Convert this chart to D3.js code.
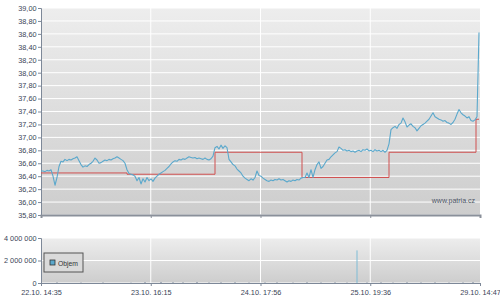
<!DOCTYPE html>
<html>
<head>
<meta charset="utf-8">
<script src="https://cdn.jsdelivr.net/npm/d3@7"></script>
<style>
  body { margin: 0; background: #fff; }
  svg { display: block; font-family: "Liberation Sans", Arial, sans-serif; }
  .tick text { fill: #3a4457; font-size: 7.3px; }
</style>
</head>
<body>
<svg width="500" height="298"></svg>
<script>
// price, sampled evenly over the trading period
const prices = [
  36.48, 36.48, 36.47, 36.49, 36.48, 36.50, 36.40, 36.26, 36.38, 36.55,
  36.63, 36.62, 36.66, 36.64, 36.66, 36.65, 36.67, 36.68, 36.70, 36.64,
  36.58, 36.54, 36.56, 36.55, 36.58, 36.60, 36.63, 36.68, 36.65, 36.60,
  36.61, 36.63, 36.65, 36.64, 36.66, 36.65, 36.67, 36.68, 36.70, 36.68,
  36.66, 36.64, 36.60, 36.50, 36.44, 36.43, 36.42, 36.40, 36.33, 36.38,
  36.28, 36.36, 36.31, 36.38, 36.33, 36.36, 36.32, 36.37, 36.40, 36.43,
  36.45, 36.47, 36.49, 36.52, 36.55, 36.59, 36.62, 36.64, 36.63, 36.66,
  36.65, 36.67, 36.66, 36.68, 36.70, 36.69, 36.68, 36.69, 36.67, 36.68,
  36.67, 36.66, 36.68, 36.66, 36.65, 36.67, 36.71, 36.84, 36.86, 36.82,
  36.88, 36.83, 36.87, 36.84, 36.66, 36.62, 36.58, 36.56, 36.51, 36.48,
  36.45, 36.40, 36.37, 36.35, 36.33, 36.36, 36.34, 36.38, 36.48, 36.41,
  36.40, 36.37, 36.35, 36.33, 36.32, 36.34, 36.33, 36.35, 36.34, 36.36,
  36.34, 36.35, 36.33, 36.31, 36.33, 36.32, 36.34, 36.33, 36.35, 36.34,
  36.37, 36.38, 36.38, 36.45, 36.38, 36.50, 36.38, 36.50, 36.58, 36.62,
  36.52, 36.55, 36.60, 36.65, 36.66, 36.70, 36.73, 36.76, 36.78, 36.85,
  36.83, 36.80, 36.81, 36.79, 36.80, 36.78, 36.79, 36.77, 36.79, 36.80,
  36.78, 36.81, 36.80, 36.82, 36.79, 36.80, 36.78, 36.81, 36.79, 36.80,
  36.78, 36.80, 36.77, 36.80, 36.90, 37.12, 37.15, 37.17, 37.14, 37.20,
  37.22, 37.30, 37.24, 37.16, 37.19, 37.21, 37.17, 37.15, 37.10, 37.14,
  37.18, 37.20, 37.22, 37.25, 37.28, 37.33, 37.38, 37.32, 37.30, 37.28,
  37.27, 37.25, 37.26, 37.23, 37.22, 37.20, 37.23, 37.28, 37.36, 37.43,
  37.38, 37.35, 37.33, 37.30, 37.32, 37.26, 37.25, 37.27, 37.32, 38.62
];

// reference (previous close) per trading day
const stepStarts = [0, 43, 87, 130.5, 174, 217.5];
const stepValues = [36.45, 36.43, 36.77, 36.38, 36.77, 37.28];

// volume bars (sample index, volume)
const volIndex = [8, 20, 31, 45, 52, 60, 66, 71, 78, 84, 90, 97, 104, 112, 118, 126, 133, 140, 147, 153, 158, 163, 170, 176, 183, 190, 197, 204, 211, 216];
const volValues = [60000, 40000, 50000, 30000, 80000, 90000, 70000, 60000, 90000, 50000, 60000, 70000, 40000, 50000, 60000, 40000, 70000, 50000, 60000, 40000, 2900000, 50000, 60000, 40000, 70000, 50000, 60000, 40000, 50000, 80000];

const xTickLabels = ["22.10. 14:35", "23.10. 16:15", "24.10. 17:56", "25.10. 19:36", "29.10. 14:47"];
const priceTicks = d3.range(35.8, 39.001, 0.2);
const volTicks = [0, 2000000, 4000000];

const svg = d3.select("svg");
const left = 41, right = 480;
const mainTop = 8, mainBottom = 215;
const volTop = 238, volBottom = 283;

const x = d3.scaleLinear().domain([0, prices.length - 1]).range([left, right - 1]);
const xTick = d3.scalePoint().domain(xTickLabels).range([left, right]);
const y = d3.scaleLinear().domain([35.8, 39]).range([mainBottom, mainTop]);
const yVol = d3.scaleLinear().domain([0, 4000000]).range([volBottom, volTop]);

const grad = svg.append("defs").append("linearGradient")
    .attr("id", "bg").attr("x1", 0).attr("y1", 0).attr("x2", 0).attr("y2", 1);
grad.append("stop").attr("offset", "0%").attr("stop-color", "#ededed");
grad.append("stop").attr("offset", "100%").attr("stop-color", "#cdcdcd");

function panel(top, bottom, yScale, ticks, fmt) {
    const g = svg.append("g");
    g.append("rect")
        .attr("x", left).attr("y", top)
        .attr("width", right - left).attr("height", bottom - top)
        .attr("fill", "url(#bg)");
    // horizontal grid
    g.selectAll(".hg").data(ticks).enter().append("line")
        .attr("x1", left).attr("x2", right)
        .attr("y1", d => yScale(d)).attr("y2", d => yScale(d))
        .attr("stroke", "#fff").attr("stroke-width", 1);
    // vertical grid
    g.selectAll(".vg").data(xTickLabels.slice(1, -1)).enter().append("line")
        .attr("x1", d => xTick(d)).attr("x2", d => xTick(d))
        .attr("y1", top).attr("y2", bottom)
        .attr("stroke", "#fff").attr("stroke-width", 1);

    const ya = g.append("g")
        .attr("transform", `translate(${left},0)`)
        .call(d3.axisLeft(yScale).tickValues(ticks).tickFormat(fmt).tickSize(3).tickPadding(1.5));
    ya.select(".domain").attr("stroke", "#7d8898");
    ya.selectAll(".tick line").attr("stroke", "#7d8898");
    return g;
}

panel(mainTop, mainBottom, y, priceTicks, d => d3.format(".2f")(d).replace(".", ","));
const volG = panel(volTop, volBottom, yVol, volTicks, d => d3.format(",")(d).replace(/,/g, " "));

// main x axis (ticks only)
const mx = svg.append("g")
    .attr("transform", `translate(0,${mainBottom})`)
    .call(d3.axisBottom(xTick).tickSize(3).tickFormat(""));
mx.select(".domain").attr("stroke", "#8a909a").attr("stroke-width", 2);
mx.selectAll(".tick line").attr("stroke", "#8a909a");

// watermark
svg.append("text")
    .attr("x", 475).attr("y", 203)
    .attr("text-anchor", "end")
    .attr("font-size", 7)
    .attr("fill", "#4a5263")
    .text("www.patria.cz");

// reference step line
const stepPts = stepStarts.map((s, i) => [s, stepValues[i]]);
stepPts.push([prices.length - 1, stepValues[stepValues.length - 1]]);
svg.append("path")
    .datum(stepPts)
    .attr("fill", "none")
    .attr("stroke", "#d05050")
    .attr("stroke-width", 1)
    .attr("d", d3.line().x(d => x(d[0])).y(d => y(d[1])).curve(d3.curveStepAfter));

// price line
svg.append("path")
    .datum(prices)
    .attr("fill", "none")
    .attr("stroke", "#5aa8cc")
    .attr("stroke-width", 1.1)
    .attr("stroke-linejoin", "round")
    .attr("d", d3.line().x((d, i) => x(i)).y(d => y(d)));

// volume bars
volG.selectAll(".vb").data(volIndex).enter().append("rect")
    .attr("x", d => x(d) - 0.5)
    .attr("width", 1)
    .attr("y", (d, i) => yVol(volValues[i]))
    .attr("height", (d, i) => volBottom - yVol(volValues[i]))
    .attr("fill", (d, i) => volValues[i] > 1000000 ? "#7fbcd6" : "#6a7a90");

// volume x axis with labels
const vx = svg.append("g")
    .attr("transform", `translate(0,${volBottom})`)
    .call(d3.axisBottom(xTick).tickSize(3).tickPadding(3.5));
vx.select(".domain").attr("stroke", "#7d8898");
vx.selectAll(".tick line").attr("stroke", "#7d8898");

// legend
const lg = svg.append("g").attr("transform", "translate(44,253)");
lg.append("rect").attr("width", 39).attr("height", 19)
    .attr("fill", "#dadada").attr("stroke", "#555").attr("stroke-width", 1);
lg.append("rect").attr("x", 6).attr("y", 7).attr("width", 5).attr("height", 5)
    .attr("fill", "#5aa8cc").attr("stroke", "#333").attr("stroke-width", 0.8);
lg.append("text").attr("x", 14).attr("y", 12.5)
    .attr("font-size", 6.8).attr("fill", "#333").text("Objem");
</script>
</body>
</html>
